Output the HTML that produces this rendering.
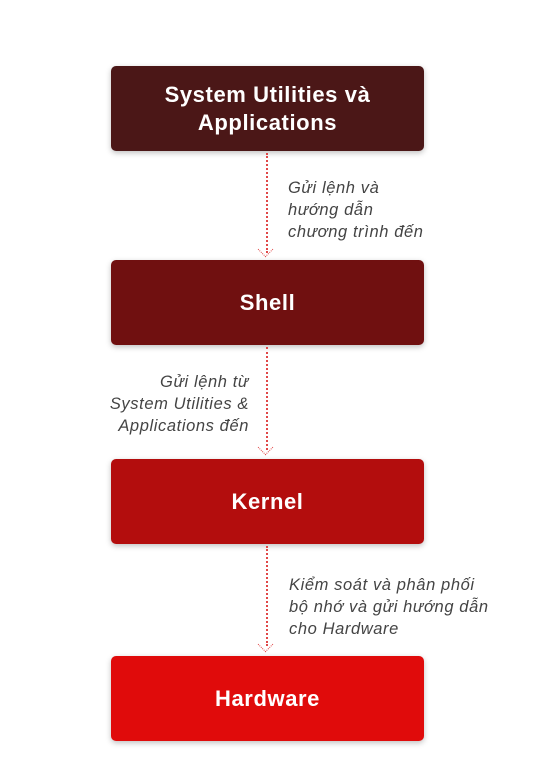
<!DOCTYPE html>
<html><head><meta charset="utf-8"><style>
body{margin:0;width:551px;height:784px;background:#fff;position:relative;font-family:"Liberation Sans","DejaVu Sans",sans-serif;overflow:hidden}
.box{position:absolute;left:111px;width:313px;height:85px;border-radius:5px;color:#fff;font-weight:bold;font-size:22px;letter-spacing:0.6px;display:flex;align-items:center;justify-content:center;text-align:center;line-height:28px;box-shadow:0 2px 6px rgba(0,0,0,0.25)}
.arrow{position:absolute;left:266px;width:0;border-left:2px dotted #e04848}
.head{position:absolute;left:260px;width:10px;height:10px;border-right:1.5px dotted #e04848;border-bottom:1.5px dotted #e04848;transform:rotate(45deg)}
.lbl{position:absolute;font-style:italic;color:#444;font-size:16.5px;letter-spacing:0.6px;line-height:22px;white-space:nowrap}
</style></head><body>
<div class="box" style="top:66px;background:#4b1717">System Utilities và<br>Applications</div>
<div class="arrow" style="top:153px;height:100px"></div>
<div class="head" style="top:244px"></div>
<div class="lbl" style="left:288px;top:177px">Gửi lệnh và<br>hướng dẫn<br>chương trình đến</div>
<div class="box" style="top:260px;background:#701010">Shell</div>
<div class="arrow" style="top:347px;height:103px"></div>
<div class="head" style="top:442px"></div>
<div class="lbl" style="right:302px;top:371px;text-align:right">Gửi lệnh từ<br>System Utilities &amp;<br>Applications đến</div>
<div class="box" style="top:459px;background:#b30d0d">Kernel</div>
<div class="arrow" style="top:546px;height:100px"></div>
<div class="head" style="top:639px"></div>
<div class="lbl" style="left:289px;top:574px">Kiểm soát và phân phối<br>bộ nhớ và gửi hướng dẫn<br>cho Hardware</div>
<div class="box" style="top:656px;background:#e00b0b">Hardware</div>
</body></html>
